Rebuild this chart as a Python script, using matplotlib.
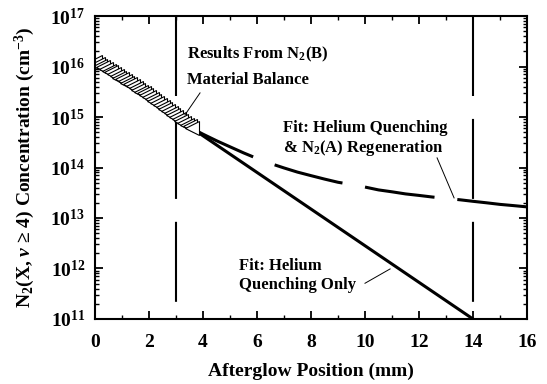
import matplotlib.pyplot as plt
import numpy as np
from matplotlib.ticker import FixedLocator, FuncFormatter, LogLocator, NullFormatter

plt.rcParams['font.family'] = 'Liberation Serif'
plt.rcParams['font.weight'] = 'bold'
plt.rcParams['axes.labelweight'] = 'bold'
plt.rcParams['mathtext.fontset'] = 'custom'
plt.rcParams['mathtext.rm'] = 'Liberation Serif:bold'
plt.rcParams['mathtext.bf'] = 'Liberation Serif:bold'
plt.rcParams['mathtext.it'] = 'Liberation Serif:bold:italic'

# N2(B) material balance results (mm, cm^-3)
pos_data = [0.0, 0.1, 0.2, 0.3, 0.4, 0.5, 0.6, 0.7, 0.8, 0.9,
            1.0, 1.1, 1.2, 1.3, 1.4, 1.5, 1.6, 1.7, 1.8, 1.9,
            2.0, 2.1, 2.2, 2.3, 2.4, 2.5, 2.6, 2.7, 2.8, 2.9,
            3.0, 3.1, 3.2, 3.3, 3.4, 3.5, 3.6]
conc_data = [1.22e16, 1.11e16, 1.03e16, 9.6e15, 8.9e15, 8.24e15, 7.62e15, 7.06e15, 6.55e15, 6.04e15,
             5.60e15, 5.18e15, 4.78e15, 4.41e15, 4.07e15, 3.75e15, 3.45e15, 3.18e15, 2.93e15, 2.69e15,
             2.47e15, 2.27e15, 2.08e15, 1.91e15, 1.75e15, 1.60e15, 1.46e15, 1.33e15, 1.22e15, 1.11e15,
             1.02e15, 9.3e14, 8.5e14, 7.7e14, 7.1e14, 6.5e14, 6.0e14]

# fit: helium quenching only (straight line on log scale)
pos_he = [0.0, 14.0]
conc_he = [1.2e16, 1.0e11]

# fit: helium quenching + N2(A) regeneration
pos_regen = [3.5, 4.0, 4.5, 5.0, 5.5, 6.0, 6.5, 7.0, 7.5, 8.0, 8.5, 9.0, 9.5,
             10.0, 10.5, 11.0, 11.5, 12.0, 12.5, 13.0, 13.5, 14.0, 14.5, 15.0, 15.5, 16.0]
conc_regen = [6.3e14, 4.57e14, 3.39e14, 2.57e14, 1.95e14, 1.51e14, 1.20e14, 9.8e13, 8.1e13, 6.9e13,
              5.9e13, 5.1e13, 4.6e13, 4.1e13, 3.6e13, 3.3e13, 3.0e13, 2.8e13, 2.6e13, 2.45e13,
              2.3e13, 2.14e13, 2.0e13, 1.86e13, 1.76e13, 1.66e13]

# region boundaries
boundaries = [3.0, 14.0]

fig = plt.figure(figsize=(5.47, 3.84), dpi=100)
ax = fig.add_axes([0.1737, 0.1693, 0.7897, 0.789])

for xb in boundaries:
    ax.plot([xb, xb], [1e17, 1e11], color='black', lw=1.5,
            linestyle=(0, (38.4, 11)), solid_capstyle='butt')

ax.plot(pos_he, conc_he, color='black', lw=2.2)
ax.plot(pos_regen, conc_regen, color='black', lw=2.2, linestyle=(0, (23, 7.5)))
ax.plot(pos_data, conc_data, linestyle='none', marker='<', ms=9.5,
        mfc='white', mec='black', mew=0.8)

ax.set_yscale('log')
ax.set_xlim(0, 16)
ax.set_ylim(1e11, 1e17)

ax.xaxis.set_major_locator(FixedLocator(np.arange(0, 17, 2)))
ax.xaxis.set_minor_locator(FixedLocator(np.arange(1, 16, 2)))
ax.yaxis.set_major_locator(LogLocator(base=10, numticks=10))
ax.yaxis.set_minor_locator(LogLocator(base=10, subs=np.arange(2, 10), numticks=10))
ax.yaxis.set_minor_formatter(NullFormatter())
ax.yaxis.set_major_formatter(FuncFormatter(lambda v, p: r'$10^{%d}$' % round(np.log10(v))))

ax.tick_params(which='both', direction='in', top=True, right=True, width=1.3)
ax.tick_params(which='major', length=5.8)
ax.tick_params(which='minor', length=3.2, width=1.0)
ax.tick_params(axis='x', labelsize=14, pad=11)
ax.tick_params(axis='y', labelsize=14, pad=7)
for s in ax.spines.values():
    s.set_linewidth(1.5)

ax.set_xlabel('Afterglow Position (mm)', fontsize=14, fontweight='bold', labelpad=8)
ax.set_ylabel(r'N$_2$(X, $v$ ≥ 4) Concentration (cm$^{-3}$)', fontsize=14, fontweight='bold')
ax.yaxis.set_label_coords(-0.135, 0.5)

fs = 12
ax.text(3.41, 1.7e16, r'Results From N$_2$(B)', fontsize=fs, va='center')
ax.text(3.41, 5.4e15, 'Material Balance', fontsize=fs, va='center')
ax.plot([3.89, 3.33], [3.0e15, 1.1e15], color='black', lw=0.7)

ax.text(6.96, 6.0e14, 'Fit: Helium Quenching', fontsize=fs, va='center')
ax.text(6.96, 2.45e14, r'& N$_2$(A) Regeneration', fontsize=fs, va='center')
ax.plot([12.67, 13.3], [1.55e14, 2.5e13], color='black', lw=0.7)

ax.text(5.33, 1.12e12, 'Fit: Helium', fontsize=fs, va='center')
ax.text(5.33, 4.7e11, 'Quenching Only', fontsize=fs, va='center')
ax.plot([10.0, 10.93], [5.1e11, 9.8e11], color='black', lw=0.7)

fig.savefig('out.png', dpi=100)
